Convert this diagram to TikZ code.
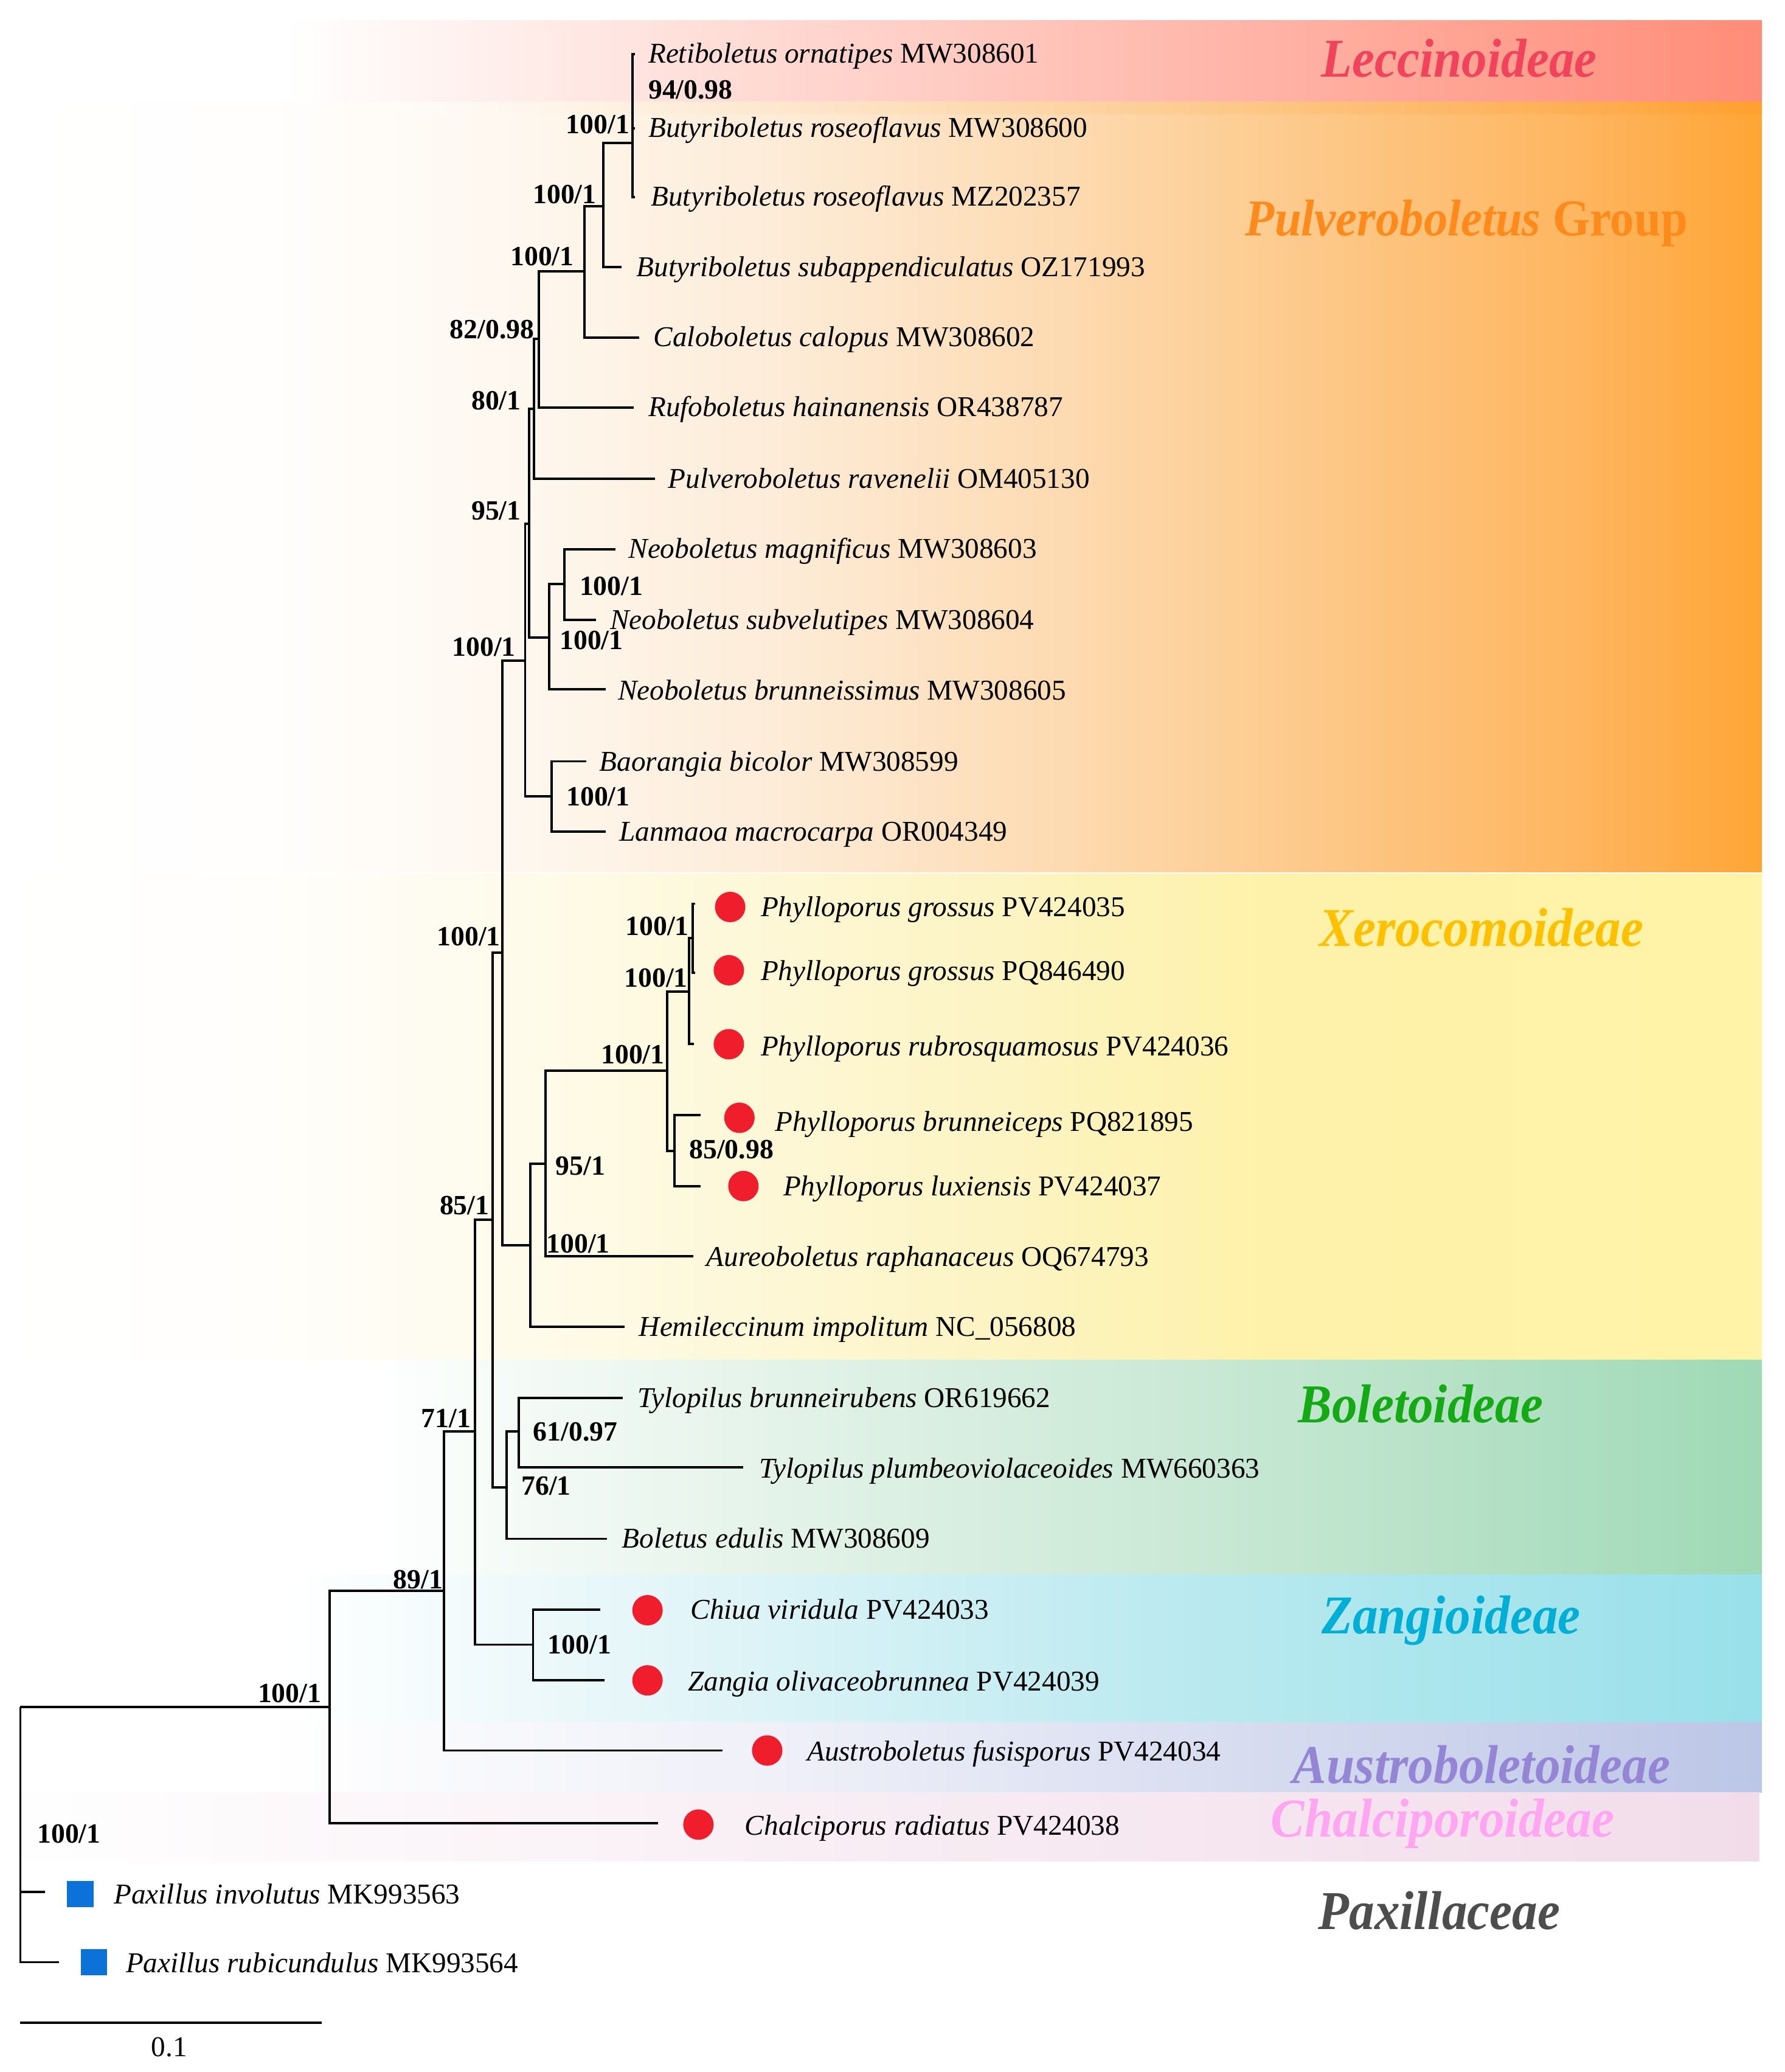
\documentclass[tikz,border=0pt]{standalone}
\usepackage{fontspec}
\setmainfont{Liberation Serif}
\definecolor{leccC}{HTML}{F2435C}
\definecolor{pulvC}{HTML}{FF8A1C}
\definecolor{xeroC}{HTML}{FFC000}
\definecolor{bolC}{HTML}{14AA14}
\definecolor{zangC}{HTML}{00AFD6}
\definecolor{austC}{HTML}{9585D5}
\definecolor{chalC}{HTML}{FFA6F2}
\definecolor{paxC}{HTML}{4D4D4D}
\definecolor{dotred}{HTML}{F01E2D}
\definecolor{sqblue}{HTML}{0A72D8}
\definecolor{leccR}{HTML}{FF8C78}
\definecolor{leccM}{HTML}{FFD2C8}
\definecolor{pulvS}{HTML}{FF9A28}
% Pulveroboletus band stops
\definecolor{pu1}{HTML}{FFFEFD}
\definecolor{pu2}{HTML}{FEF7EE}
\definecolor{pu3}{HTML}{FDEBD6}
\definecolor{pu4}{HTML}{FDDBB2}
\definecolor{pu5}{HTML}{FDC888}
\definecolor{pu6}{HTML}{FEB55E}
\definecolor{pu7}{HTML}{FFA535}
% Xerocomoideae band stops
\definecolor{xe1}{HTML}{FFFEFB}
\definecolor{xe2}{HTML}{FEFBEA}
\definecolor{xe3}{HTML}{FDF7D4}
\definecolor{xe4}{HTML}{FCF3BE}
\definecolor{xe5}{HTML}{FEF2AA}
\definecolor{xe6}{HTML}{FFF3A8}
% Boletoideae
\definecolor{bo0}{HTML}{FCFEFD}
\definecolor{bo1}{HTML}{E2F2E8}
\definecolor{bo2}{HTML}{C8E8D4}
\definecolor{bo3}{HTML}{9FD9B6}
% Zangioideae
\definecolor{za1}{HTML}{E2F5F8}
\definecolor{za2}{HTML}{BCEAF0}
\definecolor{za3}{HTML}{98E0EA}
% Austroboletoideae
\definecolor{au1}{HTML}{EEEFF8}
\definecolor{au2}{HTML}{BCC6E6}
% Chalciporoideae
\definecolor{ch1}{HTML}{F8EEF4}
\definecolor{ch2}{HTML}{F2DCEA}
\pgfdeclarehorizontalshading{pulvsh}{100bp}{color(0bp)=(white); color(25bp)=(white); color(32.5bp)=(pu1); color(40bp)=(pu2); color(47.5bp)=(pu3); color(55bp)=(pu4); color(62.5bp)=(pu5); color(70bp)=(pu6); color(75bp)=(pu7); color(100bp)=(pu7)}
\pgfdeclarehorizontalshading{xerosh}{100bp}{color(0bp)=(white); color(25bp)=(white); color(32.5bp)=(xe1); color(40bp)=(xe2); color(47.5bp)=(xe3); color(55bp)=(xe4); color(61bp)=(xe5); color(75bp)=(xe6); color(100bp)=(xe6)}
\pgfdeclarehorizontalshading{bolsh}{100bp}{color(0bp)=(bo0); color(25bp)=(bo0); color(40bp)=(bo1); color(55bp)=(bo2); color(75bp)=(bo3); color(100bp)=(bo3)}
\pgfdeclarehorizontalshading{zangsh}{100bp}{color(0bp)=(white); color(25bp)=(white); color(38.5bp)=(za1); color(54.5bp)=(za2); color(75bp)=(za3); color(100bp)=(za3)}
\pgfdeclarehorizontalshading{austsh}{100bp}{color(0bp)=(white); color(25bp)=(white); color(43bp)=(au1); color(75bp)=(au2); color(100bp)=(au2)}
\pgfdeclarehorizontalshading{chalsh}{100bp}{color(0bp)=(white); color(25bp)=(white); color(48bp)=(ch1); color(75bp)=(ch2); color(100bp)=(ch2)}
\newcommand{\tx}[2]{\textit{#1} #2}
\newcommand{\grpname}[1]{\scalebox{1}[1.08]{#1}}
\tikzset{
  br/.style={line width=1.8pt, line join=miter},
  taxon/.style={font=\fontsize{21.7}{26}\selectfont, inner sep=0pt, anchor=mid west, yshift=-4.5pt},
  supp/.style={font=\fontsize{21}{24}\selectfont\bfseries, inner sep=0pt},
  grp/.style={font=\fontsize{38.3}{44}\selectfont\bfseries\itshape, inner sep=0pt, anchor=base},
  reddot/.style={circle, fill=dotred, draw=none, minimum size=23pt, inner sep=0pt},
  bluesq/.style={rectangle, fill=sqblue, draw=none, minimum size=20pt, inner sep=0pt},
  band/.style={draw=none}
}
\begin{document}
\begin{tikzpicture}[x=1pt,y=-1pt]
\useasboundingbox (0,0) rectangle (1349,1566);
% ---------- bands ----------
\shade[band, left color=white, middle color=leccM, right color=leccR] (215,15.4) rectangle (1332,77);
\shade[band, shading=pulvsh] (0,77) rectangle (1332,659);
\shade[band, left color=white, right color=pulvS, opacity=0.45] (300,77) rectangle (1332,86);
\shade[band, shading=xerosh] (0,660.5) rectangle (1332,1028);
\shade[band, shading=bolsh] (300,1028) rectangle (1332,1190);
\shade[band, shading=zangsh] (218,1190) rectangle (1332,1302);
\shade[band, shading=austsh] (200,1302) rectangle (1332,1354.5);
\shade[band, shading=chalsh] (0,1354.5) rectangle (1330,1406.7);
% ---------- tree coordinates ----------
\coordinate (root) at (15.4,1290);
\coordinate (nA) at (249,1290);
\coordinate (tPinv) at (34,1430);
\coordinate (tPrub) at (44.5,1483);
\coordinate (tChal) at (497.5,1378);
\coordinate (nB) at (335.6,1202.5);
\coordinate (tAus) at (546,1323);
\coordinate (nC) at (359,1082);
\coordinate (nZ) at (403,1243);
\coordinate (tChi) at (454,1216.5);
\coordinate (tZan) at (457,1270);
\coordinate (nD) at (372.5,922);
\coordinate (nBol) at (383,1124);
\coordinate (tEdu) at (458.7,1163);
\coordinate (nTyl) at (392,1082);
\coordinate (tTbr) at (471,1056.4);
\coordinate (tTpl) at (562,1109);
\coordinate (nE) at (379.8,720);
\coordinate (nX) at (401,941);
\coordinate (tHem) at (472,1002.6);
\coordinate (nXa) at (412.6,879.5);
\coordinate (tAur) at (524,949.4);
\coordinate (nP) at (504.5,809);
\coordinate (nP2) at (521,749.3);
\coordinate (tRub) at (524.5,789);
\coordinate (nG) at (523.5,709);
\coordinate (tGr1) at (525.5,683);
\coordinate (tGr2) at (525.5,735);
\coordinate (nBr) at (510,870);
\coordinate (tBrn) at (529.6,842.6);
\coordinate (tLux) at (529.6,896.4);
\coordinate (nF) at (397,499.4);
\coordinate (nBao) at (417,602);
\coordinate (tBao) at (443,575.4);
\coordinate (tLan) at (458,628.7);
\coordinate (nH) at (400,395.7);
\coordinate (nNeo) at (415,482);
\coordinate (tNbr) at (458,521);
\coordinate (nNeo2) at (426.5,441.5);
\coordinate (tNma) at (465.4,415.2);
\coordinate (tNsu) at (450.5,468.6);
\coordinate (nI) at (403.5,309);
\coordinate (tPul) at (495,362);
\coordinate (nJ) at (407.5,256);
\coordinate (tRuf) at (479,308);
\coordinate (nK) at (442,205);
\coordinate (tCal) at (483,255);
\coordinate (nL) at (456,156);
\coordinate (tSub) at (470,202);
\coordinate (nM) at (478,108);
\coordinate (tRet) at (480,41);
\coordinate (tB600) at (480,97);
\coordinate (tB357) at (480,149);
% ---------- branches ----------
\draw[br] (root) -- (nA);
\draw[br] (root) |- (tPinv);
\draw[br] (root) |- (tPrub);
\draw[br] (nA) |- (tChal);
\draw[br] (nA) |- (nB);
\draw[br] (nB) |- (tAus);
\draw[br] (nB) |- (nC);
\draw[br] (nC) |- (nZ);
\draw[br] (nC) |- (nD);
\draw[br] (nZ) |- (tChi);
\draw[br] (nZ) |- (tZan);
\draw[br] (nD) |- (nBol);
\draw[br] (nD) |- (nE);
\draw[br] (nBol) |- (tEdu);
\draw[br] (nBol) |- (nTyl);
\draw[br] (nTyl) |- (tTbr);
\draw[br] (nTyl) |- (tTpl);
\draw[br] (nE) |- (nF);
\draw[br] (nE) |- (nX);
\draw[br] (nX) |- (tHem);
\draw[br] (nX) |- (nXa);
\draw[br] (nXa) |- (tAur);
\draw[br] (nXa) |- (nP);
\draw[br] (nP) |- (nP2);
\draw[br] (nP) |- (nBr);
\draw[br] (nP2) |- (nG);
\draw[br] (nP2) |- (tRub);
\draw[br] (nG) |- (tGr1);
\draw[br] (nG) |- (tGr2);
\draw[br] (nBr) |- (tBrn);
\draw[br] (nBr) |- (tLux);
\draw[br] (nF) |- (nH);
\draw[br] (nF) |- (nBao);
\draw[br] (nBao) |- (tBao);
\draw[br] (nBao) |- (tLan);
\draw[br] (nH) |- (nI);
\draw[br] (nH) |- (nNeo);
\draw[br] (nNeo) |- (nNeo2);
\draw[br] (nNeo) |- (tNbr);
\draw[br] (nNeo2) |- (tNma);
\draw[br] (nNeo2) |- (tNsu);
\draw[br] (nI) |- (nJ);
\draw[br] (nI) |- (tPul);
\draw[br] (nJ) |- (nK);
\draw[br] (nJ) |- (tRuf);
\draw[br] (nK) |- (nL);
\draw[br] (nK) |- (tCal);
\draw[br] (nL) |- (nM);
\draw[br] (nL) |- (tSub);
\draw[br] (nM) |- (tRet);
\draw[br] (nM) |- (tB600);
\draw[br] (nM) |- (tB357);
% ---------- support values ----------
\node[supp, anchor=west] (s1) at (490,68) {94/0.98};
\node[supp, anchor=east] (s2) at (476,94) {100/1};
\node[supp, anchor=east] (s3) at (451,147) {100/1};
\node[supp, anchor=east] (s4) at (434,194) {100/1};
\node[supp, anchor=east] (s5) at (404,249) {82/0.98};
\node[supp, anchor=east] (s6) at (394,303) {80/1};
\node[supp, anchor=east] (s7) at (394,386) {95/1};
\node[supp, anchor=west] (s8) at (438,443) {100/1};
\node[supp, anchor=west] (s9) at (423,484) {100/1};
\node[supp, anchor=east] (s10) at (390,489) {100/1};
\node[supp, anchor=west] (s11) at (428,602) {100/1};
\node[supp, anchor=east] (s12) at (378.5,708) {100/1};
\node[supp, anchor=east] (s13) at (521,700) {100/1};
\node[supp, anchor=east] (s14) at (520,739) {100/1};
\node[supp, anchor=east] (s15) at (502.5,797) {100/1};
\node[supp, anchor=west] (s16) at (521,869) {85/0.98};
\node[supp, anchor=west] (s17) at (420,881) {95/1};
\node[supp, anchor=west] (s18) at (413,940) {100/1};
\node[supp, anchor=east] (s19) at (370,911) {85/1};
\node[supp, anchor=east] (s20) at (356,1072) {71/1};
\node[supp, anchor=west] (s21) at (403,1082) {61/0.97};
\node[supp, anchor=west] (s22) at (394,1123) {76/1};
\node[supp, anchor=west] (s23) at (414,1243) {100/1};
\node[supp, anchor=east] (s24) at (335,1194) {89/1};
\node[supp, anchor=east] (s25) at (243,1280) {100/1};
\node[supp, anchor=west] (s26) at (28,1386) {100/1};
% ---------- taxa ----------
\node[taxon] (lRet) at (490,41) {\tx{Retiboletus ornatipes}{MW308601}};
\node[taxon] (lB600) at (490,97) {\tx{Butyriboletus roseoflavus}{MW308600}};
\node[taxon] (lB357) at (492,149) {\tx{Butyriboletus roseoflavus}{MZ202357}};
\node[taxon] (lSub) at (481,202) {\tx{Butyriboletus subappendiculatus}{OZ171993}};
\node[taxon] (lCal) at (494,255) {\tx{Caloboletus calopus}{MW308602}};
\node[taxon] (lRuf) at (490,308) {\tx{Rufoboletus hainanensis}{OR438787}};
\node[taxon] (lPul) at (505,362) {\tx{Pulveroboletus ravenelii}{OM405130}};
\node[taxon] (lNma) at (475,415) {\tx{Neoboletus magnificus}{MW308603}};
\node[taxon] (lNsu) at (461,469) {\tx{Neoboletus subvelutipes}{MW308604}};
\node[taxon] (lNbr) at (467,522) {\tx{Neoboletus brunneissimus}{MW308605}};
\node[taxon] (lBao) at (453,576) {\tx{Baorangia bicolor}{MW308599}};
\node[taxon] (lLan) at (468,629) {\tx{Lanmaoa macrocarpa}{OR004349}};
\node[taxon] (lGr1) at (575,686) {\tx{Phylloporus grossus}{PV424035}};
\node[taxon] (lGr2) at (575,734) {\tx{Phylloporus grossus}{PQ846490}};
\node[taxon] (lRub) at (575,791) {\tx{Phylloporus rubrosquamosus}{PV424036}};
\node[taxon] (lBrn) at (586,848) {\tx{Phylloporus brunneiceps}{PQ821895}};
\node[taxon] (lLux) at (592,897) {\tx{Phylloporus luxiensis}{PV424037}};
\node[taxon] (lAur) at (534,950) {\tx{Aureoboletus raphanaceus}{OQ674793}};
\node[taxon] (lHem) at (483,1003) {\tx{Hemileccinum impolitum}{NC\_056808}};
\node[taxon] (lTbr) at (482,1057) {\tx{Tylopilus brunneirubens}{OR619662}};
\node[taxon] (lTpl) at (574,1110) {\tx{Tylopilus plumbeoviolaceoides}{MW660363}};
\node[taxon] (lEdu) at (470,1163) {\tx{Boletus edulis}{MW308609}};
\node[taxon] (lChi) at (522,1217) {\tx{Chiua viridula}{PV424033}};
\node[taxon] (lZan) at (520,1271) {\tx{Zangia olivaceobrunnea}{PV424039}};
\node[taxon] (lAus) at (610,1324) {\tx{Austroboletus fusisporus}{PV424034}};
\node[taxon] (lChal) at (563,1380) {\tx{Chalciporus radiatus}{PV424038}};
\node[taxon] (lPinv) at (86,1432) {\tx{Paxillus involutus}{MK993563}};
\node[taxon] (lPrub) at (95,1484) {\tx{Paxillus rubicundulus}{MK993564}};
% ---------- markers ----------
\node[reddot] (dGr1) at (552,685.5) {};
\node[reddot] (dGr2) at (551,733.3) {};
\node[reddot] (dRub) at (551,789.2) {};
\node[reddot] (dBrn) at (559,844.8) {};
\node[reddot] (dLux) at (562,896.4) {};
\node[reddot] (dChi) at (489.5,1217) {};
\node[reddot] (dZan) at (489.5,1270) {};
\node[reddot] (dAus) at (580,1323) {};
\node[reddot] (dChal) at (528,1379) {};
\node[bluesq] (qPinv) at (60.6,1431.5) {};
\node[bluesq] (qPrub) at (71,1483) {};
% ---------- group labels ----------
\node[grp, text=leccC] (gLec) at (1103,58) {\grpname{Leccinoideae}};
\node[grp, text=pulvC, font=\fontsize{36.2}{42}\selectfont\bfseries\itshape] (gPul) at (1108.7,178) {\grpname{Pulveroboletus \textup{Group}}};
\node[grp, text=xeroC] (gXer) at (1120,715) {\grpname{Xerocomoideae}};
\node[grp, text=bolC] (gBol) at (1074,1075) {\grpname{Boletoideae}};
\node[grp, text=zangC] (gZan) at (1097,1234.6) {\grpname{Zangioideae}};
\node[grp, text=austC] (gAus) at (1120,1348) {\grpname{Austroboletoideae}};
\node[grp, text=chalC] (gCha) at (1090.6,1388.3) {\grpname{Chalciporoideae}};
\node[grp, text=paxC] (gPax) at (1088,1458.2) {\grpname{Paxillaceae}};
% ---------- scale bar ----------
\coordinate (sb1) at (15.4,1528.6);
\coordinate (sb2) at (243,1528.6);
\draw[br] (sb1) -- (sb2);
\node[font=\fontsize{21.7}{26}\selectfont, inner sep=0pt] (sbl) at (128,1547) {0.1};
\end{tikzpicture}
\end{document}
